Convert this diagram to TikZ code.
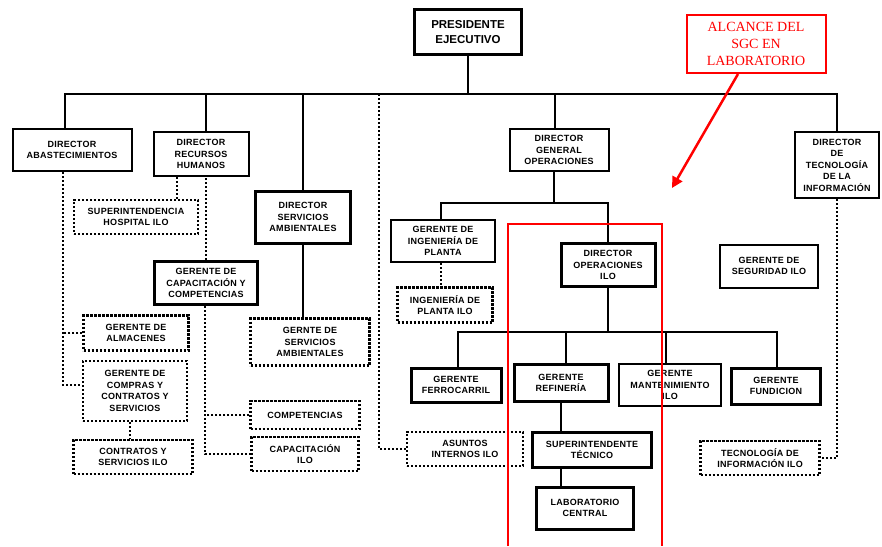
\documentclass[tikz,border=0pt]{standalone}
\usepackage{fontspec}
\setmainfont{Liberation Sans}
\newfontfamily\orgfont[LetterSpace=3]{Liberation Sans}
\newfontfamily\alcfont{Liberation Serif}
\usepackage{tikz}
\usetikzlibrary{arrows.meta}

\begin{document}
\begin{tikzpicture}[x=1pt,y=-1pt,
  orgbox/.style={draw,line width=2pt,fill=white,align=center,inner sep=1pt,
    font=\fontsize{9}{11.5}\selectfont\orgfont\bfseries},
  thickbox/.style={orgbox,line width=3pt},
  dotbox/.style={orgbox,line width=2.2pt,dash pattern=on 2.2pt off 1.8pt},
  conn/.style={line width=2pt},
  dotline/.style={line width=2.2pt,dash pattern=on 2.2pt off 1.8pt},
  sgc/.style={red,line width=2pt}]
  \useasboundingbox (0,0) rectangle (882,546);
  % top
  \node[thickbox,minimum width=107pt,minimum height=45pt,
    font=\fontsize{11.5}{15}\selectfont\bfseries] (pres) at (468,32) {PRESIDENTE\\EJECUTIVO};
  \node[draw=red,line width=2pt,minimum width=139pt,minimum height=58pt,align=center,
    text=red,font=\fontsize{14}{17}\selectfont\alcfont] (alcance) at (756,44) {ALCANCE DEL\\SGC EN\\LABORATORIO};
  % directores
  \node[orgbox,minimum width=119pt,minimum height=42pt] (abast) at (72,150) {DIRECTOR\\ABASTECIMIENTOS};
  \node[orgbox,minimum width=95pt,minimum height=44pt] (rrhh) at (201,154) {DIRECTOR\\RECURSOS\\HUMANOS};
  \node[thickbox,minimum width=95pt,minimum height=52pt] (servamb) at (303,217) {DIRECTOR\\SERVICIOS\\AMBIENTALES};
  \node[orgbox,minimum width=99pt,minimum height=42pt] (dgops) at (559,150) {DIRECTOR\\GENERAL\\OPERACIONES};
  \node[orgbox,minimum width=84pt,minimum height=66pt] (dirtec) at (837,165) {DIRECTOR\\DE\\TECNOLOG\'IA\\DE LA\\INFORMACI\'ON};
  % rama izquierda
  \node[dotbox,minimum width=124pt,minimum height=34pt] (hospital) at (136,217) {SUPERINTENDENCIA\\HOSPITAL ILO};
  \node[thickbox,minimum width=103pt,minimum height=43pt] (gcap) at (206,283) {GERENTE DE\\CAPACITACI\'ON Y\\COMPETENCIAS};
  \node[dotbox,minimum width=105pt,minimum height=35pt] (almac) at (136,333) {GERENTE DE\\ALMACENES};
  \node[dotbox,minimum width=104pt,minimum height=60pt] (compras) at (135,391) {GERENTE DE\\COMPRAS Y\\CONTRATOS Y\\SERVICIOS};
  \node[dotbox,minimum width=119pt,minimum height=34pt] (contratos) at (133,457) {CONTRATOS Y\\SERVICIOS ILO};
  \node[dotbox,minimum width=119pt,minimum height=47pt] (gserv) at (310,342) {GERNTE DE\\SERVICIOS\\AMBIENTALES};
  \node[dotbox,minimum width=109pt,minimum height=28pt] (compet) at (305,415) {COMPETENCIAS};
  \node[dotbox,minimum width=107pt,minimum height=34pt] (capilo) at (305,454) {CAPACITACI\'ON\\ILO};
  % operaciones
  \node[orgbox,minimum width=104pt,minimum height=42pt] (ging) at (443,241) {GERENTE DE\\INGENIER\'IA DE\\PLANTA};
  \node[dotbox,minimum width=95pt,minimum height=35pt] (ingilo) at (445,305) {INGENIER\'IA DE\\PLANTA ILO};
  \node[thickbox,minimum width=94pt,minimum height=43pt] (dopsilo) at (608,265) {DIRECTOR\\OPERACIONES\\ILO};
  \node[orgbox,minimum width=98pt,minimum height=43pt] (segur) at (769,266) {GERENTE DE\\SEGURIDAD ILO};
  \node[thickbox,minimum width=90pt,minimum height=34pt] (ferro) at (456,385) {GERENTE\\FERROCARRIL};
  \node[thickbox,minimum width=94pt,minimum height=37pt] (refin) at (561,383) {GERENTE\\REFINER\'IA};
  \node[orgbox,minimum width=102pt,minimum height=42pt] (mant) at (670,385) {GERENTE\\MANTENIMIENTO\\ILO};
  \node[thickbox,minimum width=89pt,minimum height=36pt] (fund) at (776,386) {GERENTE\\FUNDICION};
  \node[dotbox,minimum width=116pt,minimum height=34pt] (asuntos) at (465,449) {ASUNTOS\\INTERNOS ILO};
  \node[thickbox,minimum width=119pt,minimum height=35pt] (sup) at (592,450) {SUPERINTENDENTE\\T\'ECNICO};
  \node[thickbox,minimum width=97pt,minimum height=42pt] (lab) at (585,508) {LABORATORIO\\CENTRAL};
  \node[dotbox,minimum width=119pt,minimum height=34pt] (tecilo) at (760,458) {TECNOLOG\'IA DE\\INFORMACI\'ON ILO};
  % lineas principales
  \draw[conn] (pres.south) -- ++(0,38) coordinate (bus);
  \draw[conn] ([xshift=-7pt]abast.north) |- (bus) -| (dirtec.north);
  \draw[conn] ([xshift=5pt]rrhh.north) -- ([xshift=5pt]rrhh.north |- bus);
  \draw[conn] (servamb.north) -- (servamb.north |- bus);
  \draw[conn] ([xshift=-4pt]dgops.north) -- ([xshift=-4pt]dgops.north |- bus);
  \draw[conn] (servamb.south) -- (servamb.south |- gserv.north);
  \draw[conn] ([xshift=-5pt]dgops.south) -- ++(0,31) coordinate (gops);
  \draw[conn] ([xshift=-2pt]ging.north) |- (gops) -| (dopsilo.north);
  \draw[conn] (dopsilo.south) -- ++(0,44) coordinate (ops);
  \draw[conn] ([xshift=2pt]ferro.north) |- (ops) -| ([xshift=1pt]fund.north);
  \draw[conn] ([xshift=5pt]refin.north) -- ([xshift=5pt]refin.north |- ops);
  \draw[conn] ([xshift=-4pt]mant.north) -- ([xshift=-4pt]mant.north |- ops);
  \draw[conn] (refin.south) -- (refin.south |- sup.north);
  \draw[conn] (sup.south -| refin.south) -- (lab.north -| refin.south);
  % lineas punteadas
  \coordinate (asj) at (379,94);
  \coordinate (abdrop) at ([xshift=-9pt]abast.south);
  \coordinate (gcdrop) at ([xshift=-1pt]gcap.south);
  \draw[dotline] (asj) |- (asuntos.west);
  \draw[dotline] (abdrop) |- ([yshift=6pt]compras.west);
  \draw[dotline] (almac.west) -- (almac.west -| abdrop);
  \draw[dotline] ([xshift=-24pt]rrhh.south) -- ([xshift=-24pt]rrhh.south |- hospital.north);
  \draw[dotline] (gcap.north) -- (gcap.north |- rrhh.south);
  \draw[dotline] (gcdrop) |- (capilo.west);
  \draw[dotline] (compet.west) -- (compet.west -| gcdrop);
  \draw[dotline] ([xshift=-5pt]compras.south) -- ([xshift=-5pt]compras.south |- contratos.north);
  \draw[dotline] ([xshift=-2pt]ging.south) -- ([xshift=-2pt]ging.south |- ingilo.north);
  \draw[dotline] (dirtec.south) |- (tecilo.east);
  % alcance
  \coordinate (tip) at (672,188);
  \draw[sgc,line width=2.5pt,-{Triangle[length=11pt,width=11pt]}] ([xshift=-18pt]alcance.south) -- (tip);
  \draw[sgc] (508,546) -- (508,224) -- (662,224) -- (662,546);
\end{tikzpicture}
\end{document}
